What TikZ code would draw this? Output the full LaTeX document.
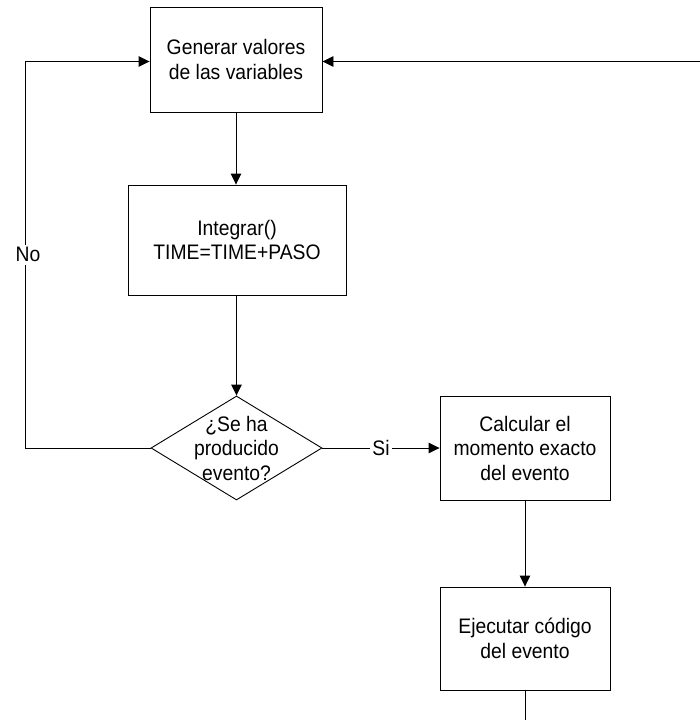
\documentclass[tikz,border=0pt]{standalone}
\usepackage{fontspec}
\setmainfont{Liberation Sans}[FakeStretch=0.92]
\usetikzlibrary{arrows.meta,shapes.geometric}

\tikzset{
  every node/.style={font=\fontsize{21}{24.5}\selectfont},
  procbox/.style={draw, rectangle, line width=0.9pt, inner sep=0pt, align=center},
  decision/.style={draw, diamond, line width=0.9pt, inner sep=0pt},
  flow/.style={line width=0.9pt, -{Triangle[length=11pt,width=10.5pt]}},
  plain/.style={line width=0.9pt},
  tag/.style={fill=white, inner sep=2.5pt}
}

\begin{document}
\begin{tikzpicture}[x=1pt,y=-1pt]
  \useasboundingbox (0,0) rectangle (700,720);

  % process steps
  \node[procbox, minimum width=172pt, minimum height=105pt] (gen) at (236,59.5)
    {Generar valores\\de las variables};
  \node[procbox, minimum width=218pt, minimum height=110pt] (integ) at (237,240)
    {Integrar()\\TIME=TIME+PASO};
  \node[decision, minimum width=171pt, minimum height=104pt,
        label={[align=center]center:¿Se ha\\producido\\evento?}] (dec) at (236.5,448) {};
  \node[procbox, minimum width=170pt, minimum height=104pt] (calc) at (525,448)
    {Calcular el\\momento exacto\\del evento};
  \node[procbox, minimum width=170pt, minimum height=103pt] (exec) at (525,638.5)
    {Ejecutar código\\del evento};

  % loose ends of the loop
  \coordinate (back) at (700,61.5);
  \coordinate (out) at (525,720);

  % connectors
  \draw[flow] (gen.south) -- (integ.north -| gen.south);
  \draw[flow] (integ.south -| dec.north) -- (dec.north);
  \draw[flow] (dec.west) -- (25,448) -- node[tag, xshift=3pt] {No} (25,61.5) -- (gen.west |- 0,61.5);
  \draw[flow] (dec.east) -- node[tag] {Si} (calc.west);
  \draw[flow] (calc.south) -- (exec.north);
  \draw[plain] (exec.south) -- (out);
  \draw[flow] (back) -- (gen.east |- back);
\end{tikzpicture}
\end{document}
